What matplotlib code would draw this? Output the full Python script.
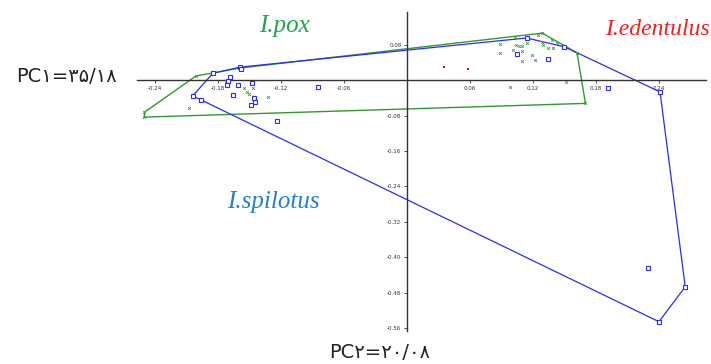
import numpy as np
import matplotlib
matplotlib.use("Agg")
import matplotlib.pyplot as plt

# PCA scores (PC1, PC2)
pox_x = [-0.201, -0.250, -0.250, -0.159, -0.172, -0.155, -0.152, -0.150, -0.147, -0.132,
         -0.208, 0.103, 0.129, 0.089, 0.089, 0.101, 0.104, 0.107, 0.110, 0.110, 0.114,
         0.119, 0.110, 0.122, 0.125, 0.129, 0.130, 0.134, 0.138, 0.139, 0.143, 0.162,
         0.151, 0.170, 0.098]
pox_y = [0.010, -0.072, -0.083, 0.028, -0.001, -0.017, -0.026, -0.031, -0.017, -0.038,
         -0.062, 0.098, 0.107, 0.082, 0.062, 0.069, 0.080, 0.078, 0.078, 0.066, 0.084,
         0.057, 0.044, 0.046, 0.103, 0.087, 0.080, 0.073, 0.091, 0.073, 0.084, 0.062,
         -0.004, -0.052, -0.015]

spil_x = [-0.185, -0.159, -0.158, -0.169, -0.170, -0.171, -0.161, -0.148, -0.166, -0.204,
          -0.196, -0.146, -0.145, -0.149, -0.124, -0.085, 0.114, 0.105, 0.134, 0.150,
          0.191, 0.241, 0.265, 0.240, 0.230]
spil_y = [0.016, 0.030, 0.026, 0.008, -0.001, -0.010, -0.010, -0.006, -0.033, -0.035,
          -0.044, -0.040, -0.049, -0.056, -0.092, -0.015, 0.096, 0.060, 0.048, 0.076,
          -0.017, -0.026, -0.467, -0.546, -0.424]

eden_x = [0.035, 0.058]
eden_y = [0.030, 0.026]

xticks = [-0.24, -0.18, -0.12, -0.06, 0.06, 0.12, 0.18, 0.24]
yticks = [0.08, -0.08, -0.16, -0.24, -0.32, -0.40, -0.48, -0.56]


def convex_hull(xs, ys):
    pts = sorted(set(zip(xs, ys)))

    def cross(o, a, b):
        return (a[0] - o[0]) * (b[1] - o[1]) - (a[1] - o[1]) * (b[0] - o[0])

    lower = []
    for p in pts:
        while len(lower) >= 2 and cross(lower[-2], lower[-1], p) <= 0:
            lower.pop()
        lower.append(p)
    upper = []
    for p in reversed(pts):
        while len(upper) >= 2 and cross(upper[-2], upper[-1], p) <= 0:
            upper.pop()
        upper.append(p)
    hull = lower[:-1] + upper[:-1]
    hull.append(hull[0])
    return np.array(hull)


fig = plt.figure(figsize=(7.11, 3.64), dpi=100)
ax = fig.add_axes([137 / 711, 1 - 331 / 364, (706 - 137) / 711, (331 - 12) / 364])
ax.set_xlim(-0.2571, 0.2848)
ax.set_ylim(-0.567, 0.1548)

green = "#2f9a2f"
blue = "#2a2aff"

h = convex_hull(pox_x, pox_y)
ax.plot(h[:, 0], h[:, 1], color=green, lw=1.0, zorder=2)
h = convex_hull(spil_x, spil_y)
ax.plot(h[:, 0], h[:, 1], color=blue, lw=0.9, zorder=2)

ax.plot(pox_x, pox_y, ls="none", marker="x", ms=2.0, mew=0.6, color="#3aa03a", zorder=3)
ax.plot(spil_x, spil_y, ls="none", marker="s", ms=2.8, mew=0.8, mfc="white", mec=blue, zorder=3)
ax.plot(eden_x, eden_y, ls="none", marker="s", ms=2.0, mew=0, color="red", zorder=3)

# axes crossing at the origin
for s in ["top", "right"]:
    ax.spines[s].set_visible(False)
ax.spines["left"].set_position(("data", 0))
ax.spines["bottom"].set_position(("data", 0))
for s in ["left", "bottom"]:
    ax.spines[s].set_color("#333333")
    ax.spines[s].set_linewidth(1.0)
ax.set_xticks(xticks)
ax.set_yticks(yticks)
ax.set_xticklabels(["%.2f" % v for v in xticks])
ax.set_yticklabels(["%.2f" % v for v in yticks])
ax.tick_params(axis="both", labelsize=4, length=2.5, width=0.6, colors="#333333", pad=1.5)

serif = {"family": "Liberation Serif", "style": "italic", "size": 18}
fig.text(259 / 711, 1 - 32 / 364, "I.pox", color="#1ea54a", fontdict=serif)
fig.text(710 / 711, 1 - 35 / 364, "I.edentulus", color="#ff1a1a", ha="right",
         fontdict={"family": "Liberation Serif", "style": "italic", "size": 17})
fig.text(227 / 711, 1 - 208 / 364, "I.spilotus", color="#1f7fd0", fontdict=serif)

fig.text(66 / 711, 1 - 77 / 364, "PC۱=۳۵/۱۸", ha="center", va="center",
         fontsize=14, family="DejaVu Sans", color="#222222")
fig.text(380 / 711, 1 - 352 / 364, "PC۲=۲۰/۰۸", ha="center", va="center",
         fontsize=14, family="DejaVu Sans", color="#222222")

fig.savefig("out.png", dpi=100)
